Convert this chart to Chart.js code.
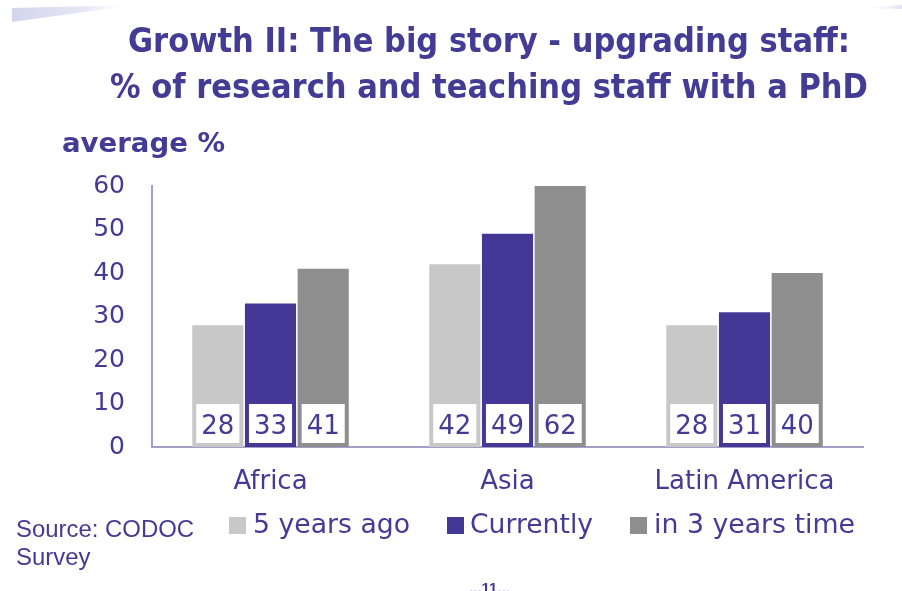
<!DOCTYPE html>
<html>
<head>
<meta charset="utf-8">
<script src="https://cdn.jsdelivr.net/npm/chart.js@4/dist/chart.umd.min.js"></script>
<style>
html,body{margin:0;padding:0;background:#fff;}
canvas{display:block;}
</style>
</head>
<body>
<canvas id="c" width="902" height="591"></canvas>
<script>
const categories = ['Africa', 'Asia', 'Latin America'];
const seriesLabels = ['5 years ago', 'Currently', 'in 3 years time'];
const fiveYearsAgo = [28, 42, 28];
const currently = [33, 49, 31];
const inThreeYears = [41, 62, 40];
const yMin = 0, yMax = 60, yStep = 10;
const titleLines = ['Growth II: The big story - upgrading staff:', '% of research and teaching staff with a PhD'];
const yAxisTitle = 'average %';
const sourceLines = ['Source: CODOC', 'Survey'];
const pageMark = '...11...';

const TEXT = '#433b94';
const COLORS = ['#c8c8c8', '#453795', '#8e8e8e'];
const AXIS = '#a29fcb';

function fitText(ctx, text, left, baseline, width, font, color) {
  ctx.save();
  ctx.font = font;
  ctx.fillStyle = color;
  ctx.textAlign = 'left';
  ctx.textBaseline = 'alphabetic';
  const w = ctx.measureText(text).width;
  ctx.translate(left, baseline);
  ctx.scale(width / w, 1);
  ctx.fillText(text, 0, 0);
  ctx.restore();
}

const decor = {
  id: 'decor',
  beforeDraw(chart) {
    const ctx = chart.ctx;
    ctx.save();
    ctx.fillStyle = '#ffffff';
    ctx.fillRect(0, 0, chart.width, chart.height);
    // top-left swoosh
    const g = ctx.createLinearGradient(12, 0, 135, 0);
    g.addColorStop(0, '#d3d5ec');
    g.addColorStop(0.6, '#e6e7f4');
    g.addColorStop(1, 'rgba(255,255,255,0)');
    ctx.fillStyle = g;
    ctx.beginPath();
    ctx.moveTo(12, 8);
    ctx.lineTo(135, 5);
    ctx.lineTo(12, 22);
    ctx.closePath();
    ctx.fill();
    // top-right faint swoosh
    const g2 = ctx.createLinearGradient(860, 0, 902, 0);
    g2.addColorStop(0, 'rgba(255,255,255,0)');
    g2.addColorStop(1, '#dfe0f0');
    ctx.fillStyle = g2;
    ctx.beginPath();
    ctx.moveTo(860, 8);
    ctx.lineTo(902, 5);
    ctx.lineTo(902, 9);
    ctx.closePath();
    ctx.fill();
    ctx.restore();
  },
  afterDraw(chart) {
    const ctx = chart.ctx;
    // title
    fitText(ctx, titleLines[0], 128, 52, 722, 'bold 33px "DejaVu Sans Condensed", "DejaVu Sans"', TEXT);
    fitText(ctx, titleLines[1], 110, 98, 758, 'bold 33px "DejaVu Sans Condensed", "DejaVu Sans"', TEXT);
    // axis title
    fitText(ctx, yAxisTitle, 62, 152, 163, 'bold 26px "DejaVu Sans Condensed", "DejaVu Sans"', TEXT);
    // source
    fitText(ctx, sourceLines[0], 16, 537, 178, '24px "Liberation Sans Narrow", "Liberation Sans"', TEXT);
    ctx.save();
    ctx.font = '24px "Liberation Sans Narrow", "Liberation Sans"';
    const s0 = ctx.measureText(sourceLines[0]).width;
    const s1 = ctx.measureText(sourceLines[1]).width;
    ctx.restore();
    fitText(ctx, sourceLines[1], 16, 565, s1 * 178 / s0, '24px "Liberation Sans Narrow", "Liberation Sans"', TEXT);
    // legend
    const boxX = [229, 447, 630];
    const textX = [253, 470, 654];
    const textW = [157, 123, 201];
    chart.data.datasets.forEach((ds, i) => {
      ctx.save();
      ctx.fillStyle = ds.backgroundColor;
      ctx.fillRect(boxX[i], 517, 17, 17);
      ctx.restore();
      fitText(ctx, ds.label, textX[i], 533, textW[i], '26px "DejaVu Sans"', TEXT);
    });
    // page mark
    fitText(ctx, pageMark, 469, 593, 41, 'bold 15px "Liberation Sans Narrow", "Liberation Sans"', TEXT);
  }
};

const valueBoxes = {
  id: 'valueBoxes',
  afterDatasetsDraw(chart) {
    const ctx = chart.ctx;
    chart.data.datasets.forEach((ds, di) => {
      const meta = chart.getDatasetMeta(di);
      meta.data.forEach((el, i) => {
        const p = el.getProps(['x', 'base', 'width'], true);
        const l = p.x - p.width / 2 + 4;
        const r = p.x + p.width / 2 - 4;
        ctx.save();
        ctx.fillStyle = '#ffffff';
        ctx.fillRect(l, p.base - 43, r - l, 39);
        ctx.font = '26px "DejaVu Sans"';
        ctx.fillStyle = TEXT;
        ctx.textAlign = 'center';
        ctx.textBaseline = 'alphabetic';
        ctx.fillText(String(ds.data[i]), p.x, p.base - 13);
        ctx.restore();
      });
    });
  }
};

new Chart(document.getElementById('c'), {
  type: 'bar',
  data: {
    labels: categories,
    datasets: [
      { label: seriesLabels[0], data: fiveYearsAgo, backgroundColor: COLORS[0] },
      { label: seriesLabels[1], data: currently, backgroundColor: COLORS[1] },
      { label: seriesLabels[2], data: inThreeYears, backgroundColor: COLORS[2] }
    ]
  },
  options: {
    responsive: false,
    animation: false,
    devicePixelRatio: 1,
    layout: { padding: { top: 186, right: 39, bottom: 90, left: 0 } },
    datasets: { bar: { categoryPercentage: 0.667, barPercentage: 0.97, borderWidth: 0 } },
    plugins: { legend: { display: false }, title: { display: false }, tooltip: { enabled: false } },
    scales: {
      x: {
        grid: { display: false, drawTicks: false, tickLength: 0 },
        border: { display: true, color: AXIS, width: 2 },
        ticks: { color: TEXT, font: { family: 'DejaVu Sans', size: 26 }, padding: 20, maxRotation: 0 },
        afterFit(s) { s.height = 54; }
      },
      y: {
        min: yMin, max: yMax,
        grid: { display: false, drawTicks: false, tickLength: 0 },
        border: { display: true, color: AXIS, width: 2 },
        ticks: { stepSize: yStep, color: TEXT, font: { family: 'DejaVu Sans', size: 25 }, padding: 27 },
        afterFit(s) { s.width = 152; }
      }
    }
  },
  plugins: [decor, valueBoxes]
});
</script>
</body>
</html>
